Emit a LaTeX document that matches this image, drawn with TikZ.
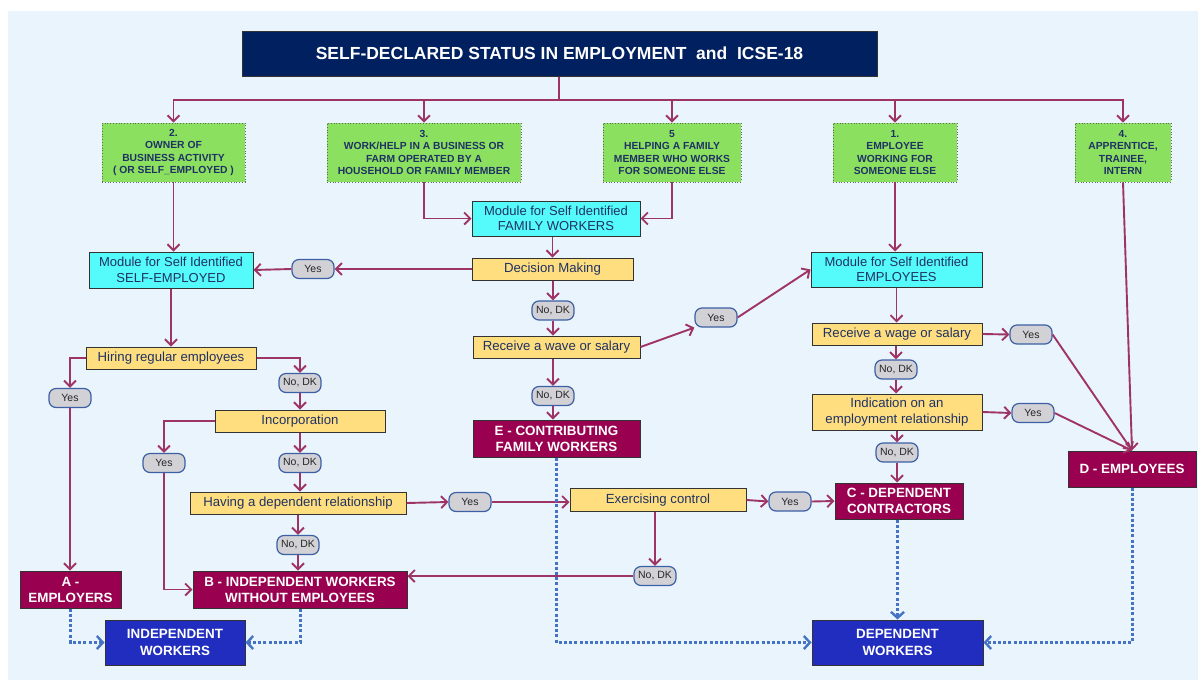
\documentclass[tikz,border=0pt]{standalone}
\usepackage{fontspec}
\setmainfont{Liberation Sans}
\usetikzlibrary{arrows.meta}
\definecolor{bgc}{RGB}{234,244,252}
\definecolor{navy}{RGB}{0,32,96}
\definecolor{txtnavy}{RGB}{31,50,100}
\definecolor{grn}{RGB}{140,224,96}
\definecolor{cyn}{RGB}{85,250,250}
\definecolor{yel}{RGB}{255,222,128}
\definecolor{maroon}{RGB}{153,0,80}
\definecolor{bluebox}{RGB}{32,45,190}
\definecolor{conn}{RGB}{158,52,102}
\definecolor{dotb}{RGB}{68,114,196}
\definecolor{pillf}{RGB}{210,210,214}
\definecolor{pillb}{RGB}{60,95,165}
\begin{document}
\begin{tikzpicture}[x=1pt,y=-1pt,
  box/.style={draw=black!80, line width=1pt, inner sep=0pt, align=center},
  titlebox/.style={box, fill=navy, text=white, font=\fontsize{17.5}{19}\selectfont\bfseries},
  grnbox/.style={draw=black!60, dotted, line width=0.8pt, fill=grn, inner sep=0pt, align=center, text=txtnavy, minimum height=59, font=\fontsize{10.3}{12.4}\selectfont\bfseries},
  cynbox/.style={box, fill=cyn, text=txtnavy, font=\fontsize{13}{15.5}\selectfont},
  yelbox/.style={box, fill=yel, text=txtnavy, minimum height=22, font=\fontsize{13.2}{15.5}\selectfont},
  marbox/.style={box, fill=maroon, text=white, minimum height=37, font=\fontsize{13.4}{16}\selectfont\bfseries},
  blubox/.style={box, fill=bluebox, text=white, minimum height=45, font=\fontsize{13.4}{17}\selectfont\bfseries},
  pill/.style={draw=pillb, line width=1.2pt, fill=pillf, rounded corners=7pt, minimum width=42, minimum height=19, inner sep=0pt, text=black!85, font=\fontsize{10.5}{12}\selectfont},
  flow/.style={draw=conn, line width=1.9pt, -{Straight Barb[length=6pt,width=12pt,line width=1.9pt]}},
  plain/.style={draw=conn, line width=1.9pt},
  dots/.style={draw=dotb, line width=3pt, dash pattern=on 3pt off 2.2pt, -{Straight Barb[length=6pt,width=13pt,line width=2.4pt]}}
]
\useasboundingbox (0,0) rectangle (1202,681);
\fill[white] (0,0) rectangle (1202,681);
\fill[bgc] (8,11) rectangle (1198,680);

% title
\node[titlebox, minimum width=635, minimum height=45] (title) at (559.5,53.5) {SELF-DECLARED STATUS IN EMPLOYMENT\ \ and\ \ ICSE-18};
\coordinate (bus) at (559,100);

% green boxes
\node[grnbox, minimum width=143] (g2) at (173.5,152.5) {2.\\OWNER OF\\BUSINESS ACTIVITY\\( OR SELF\_EMPLOYED )};
\node[grnbox, minimum width=194] (g3) at (424,152.5) {3.\\WORK/HELP IN A BUSINESS OR\\FARM OPERATED BY A\\HOUSEHOLD OR FAMILY MEMBER};
\node[grnbox, minimum width=138] (g5) at (672,152.5) {5\\HELPING A FAMILY\\MEMBER WHO WORKS\\FOR SOMEONE ELSE};
\node[grnbox, minimum width=124] (g1) at (895,152.5) {1.\\EMPLOYEE\\WORKING FOR\\SOMEONE ELSE};
\node[grnbox, minimum width=96] (g4) at (1123,152.5) {4.\\APPRENTICE,\\TRAINEE,\\INTERN};

% modules
\node[cynbox, minimum width=168, minimum height=35] (mfw) at (556,218.5) {Module for Self Identified\\FAMILY WORKERS};
\node[cynbox, minimum width=164, minimum height=36] (mse) at (171,270) {Module for Self Identified\\SELF-EMPLOYED};
\node[cynbox, minimum width=171, minimum height=35] (memp) at (896.5,269.5) {Module for Self Identified\\EMPLOYEES};

% yellow questions
\node[yelbox, minimum width=161] (dm) at (552.5,269) {Decision Making};
\node[yelbox, minimum width=167] (rw) at (556.5,347) {Receive a wave or salary};
\node[yelbox, minimum width=170] (hre) at (171,358) {Hiring regular employees};
\node[yelbox, minimum width=170] (inc) at (300,421) {Incorporation};
\node[yelbox, minimum width=216] (hdr) at (298,503) {Having a dependent relationship};
\node[yelbox, minimum width=176, minimum height=23] (ec) at (658,500) {Exercising control};
\node[yelbox, minimum width=170] (rws) at (897,334) {Receive a wage or salary};
\node[yelbox, minimum width=170, minimum height=36] (ier) at (897,412) {Indication on an\\employment relationship};

% outcomes
\node[marbox, minimum width=167] (e) at (556.5,438.5) {E - CONTRIBUTING\\FAMILY WORKERS};
\node[marbox, minimum width=101] (a) at (70.5,589.5) {A -\\EMPLOYERS};
\node[marbox, minimum width=214] (b) at (300,589.5) {B - INDEPENDENT WORKERS\\WITHOUT EMPLOYEES};
\node[marbox, minimum width=128, minimum height=36] (c) at (899,501) {C - DEPENDENT\\CONTRACTORS};
\node[marbox, minimum width=128, minimum height=36] (d) at (1132,469) {D - EMPLOYEES};
\node[blubox, minimum width=140] (iw) at (175,642.5) {INDEPENDENT\\WORKERS};
\node[blubox, minimum width=171] (dw) at (897.5,642.5) {DEPENDENT\\WORKERS};

% pills
\node[pill] (y1) at (313,269) {Yes};
\node[pill] (n1) at (553,310.5) {No, DK};
\node[pill] (y2) at (716,317.5) {Yes};
\node[pill] (n2) at (553,396) {No, DK};
\node[pill] (y3) at (70,398) {Yes};
\node[pill] (n3) at (300,383) {No, DK};
\node[pill] (y4) at (164,463) {Yes};
\node[pill] (n4) at (300,463) {No, DK};
\node[pill] (n5) at (298,545) {No, DK};
\node[pill] (y5) at (470,502) {Yes};
\node[pill] (n6) at (655,576) {No, DK};
\node[pill] (y6) at (790,501.5) {Yes};
\node[pill] (y7) at (1031,334.5) {Yes};
\node[pill] (n7) at (896,369.5) {No, DK};
\node[pill] (y8) at (1033,413) {Yes};
\node[pill] (n8) at (897,452.5) {No, DK};

% trunk
\draw[plain] (title.south -| bus) -- (bus);
\foreach \g in {g2,g3,g5,g1,g4} \draw[flow] (bus) -| (\g.north);

% family workers branch
\draw[flow] (g3.south) |- (mfw.west);
\draw[flow] (g5.south) |- (mfw.east);
\draw[flow] (mfw.south -| dm.north) -- (dm.north);
\draw[flow] (dm.west) -- (y1.east);
\draw[flow] (y1.west) -- (mse.east);
\draw[flow] (dm.south -| n1) -- (n1.north);
\draw[flow] (n1.south) -- (n1.south |- rw.north);
\draw[flow] (rw.east) -- (y2.south west);
\draw[flow] (y2.east) -- (memp.west);
\draw[flow] (rw.south -| n2) -- (n2.north);
\draw[flow] (n2.south) -- (n2.south |- e.north);

% self-employed branch
\draw[flow] (g2.south) -- (g2.south |- mse.north);
\draw[flow] (mse.south) -- (hre.north);
\draw[flow] (hre.west) -| (y3.north);
\draw[flow] (y3.south) -- (a.north -| y3.south);
\draw[flow] (hre.east) -| (n3.north);
\draw[flow] (n3.south) -- (inc.north);
\draw[flow] (inc.west) -| (y4.north);
\draw[flow] (y4.south) |- (b.west);
\draw[flow] (inc.south) -- (n4.north);
\draw[flow] (n4.south) -- (n4.south |- hdr.north);
\draw[flow] (hdr.east) -- (y5.west);
\draw[flow] (y5.east) -- (y5.east -| ec.west);
\draw[flow] (hdr.south -| n5) -- (n5.north);
\draw[flow] (n5.south) -- (n5.south |- b.north);
\draw[flow] (n6.north |- ec.south) -- (n6.north);
\draw[flow] (n6.west) -- (n6.west -| b.east);
\draw[flow] (ec.east) -- (y6.west);
\draw[flow] (y6.east) -- (c.west);

% employees branch
\draw[flow] (g1.south) -- (g1.south |- memp.north);
\draw[flow] (memp.south) -- (memp.south |- rws.north);
\draw[flow] (rws.east) -- (y7.west);
\draw[flow] (y7.east) -- (d.north);
\draw[flow] (rws.south -| n7) -- (n7.north);
\draw[flow] (n7.south) -- (n7.south |- ier.north);
\draw[flow] (ier.east) -- (y8.west);
\draw[flow] (y8.east) -- (d.north);
\draw[flow] (ier.south) -- (n8.north);
\draw[flow] (n8.south) -- (n8.south |- c.north);
\draw[flow] (g4.south) -- (d.north);

% dotted aggregation
\draw[dots] (a.south) |- (iw.west);
\draw[dots] (b.south) |- (iw.east);
\draw[dots] (e.south) |- (dw.west);
\draw[dots] (c.south -| dw.north) -- (dw.north);
\draw[dots] (d.south) |- (dw.east);
\end{tikzpicture}
\end{document}
